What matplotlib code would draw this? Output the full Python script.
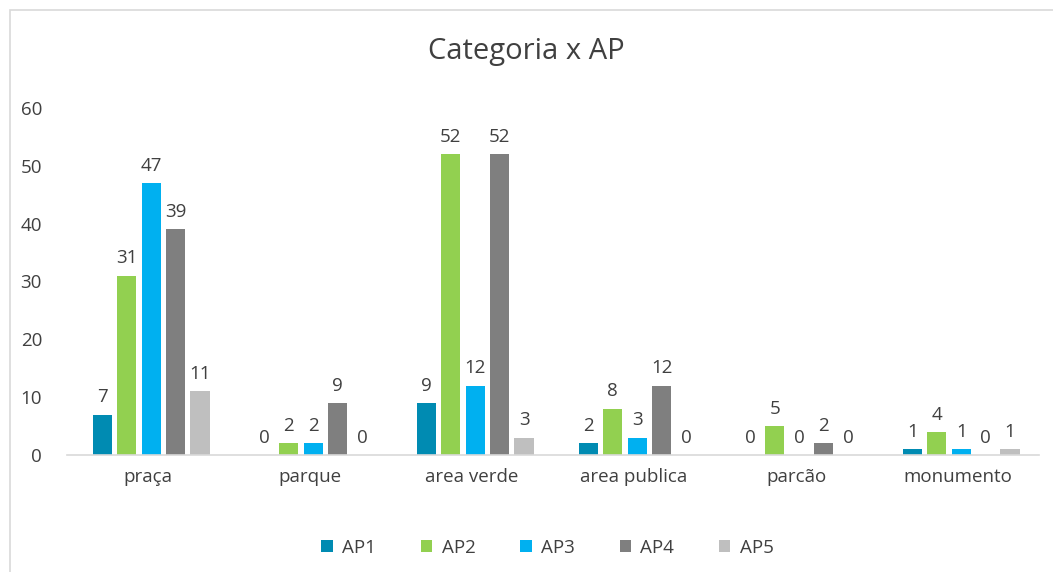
import numpy as np
import matplotlib.pyplot as plt
from matplotlib.patches import Rectangle

plt.rcParams['font.family'] = ['Open Sans', 'DejaVu Sans']

categories = ["praça", "parque", "area verde", "area publica", "parcão", "monumento"]
series_names = ["AP1", "AP2", "AP3", "AP4", "AP5"]
ap1 = [7, 0, 9, 2, 0, 1]
ap2 = [31, 2, 52, 8, 5, 4]
ap3 = [47, 2, 12, 3, 0, 1]
ap4 = [39, 9, 52, 12, 2, 0]
ap5 = [11, 0, 3, 0, 0, 1]
series = [ap1, ap2, ap3, ap4, ap5]
colors = ["#008BB2", "#92D050", "#00B0F0", "#7F7F7F", "#BFBFBF"]

text_color = "#404040"

fig = plt.figure(figsize=(10.53, 5.72), dpi=100)
# outer chart frame
fig.patches.append(Rectangle((10 / 1053, -0.01), 1.1, 1 - 10 / 572 + 0.01,
                             transform=fig.transFigure, fill=False,
                             edgecolor="#D9D9D9", linewidth=1.2))

ax = fig.add_axes([67 / 1053, 1 - 455 / 572, 972 / 1053, 347 / 572])

x = np.arange(len(categories))
pitch = 0.151
width = 0.12
for i, (vals, name, col) in enumerate(zip(series, series_names, colors)):
    pos = x + (i - 2) * pitch + 0.02
    bars = ax.bar(pos, vals, width, color=col, label=name, zorder=2)
    for p, v in zip(pos, vals):
        ax.annotate(str(v), (p, v), xytext=(0, 6), textcoords="offset points",
                    ha="center", va="bottom", fontsize=13.5, color=text_color)

ax.set_xlim(-0.5, len(categories) - 0.5)
ax.set_ylim(0, 60)
ax.set_yticks(range(0, 61, 10))
ax.set_xticks(x)
ax.set_xticklabels(categories)
ax.tick_params(axis="both", length=0, labelsize=13.5, labelcolor=text_color)
ax.tick_params(axis="x", pad=9)
ax.tick_params(axis="y", pad=18)
for s in ["top", "right", "left"]:
    ax.spines[s].set_visible(False)
ax.spines["bottom"].set_color("#D9D9D9")
ax.spines["bottom"].set_linewidth(1.2)

fig.text(0.5, 1 - 52 / 572, "Categoria x AP", ha="center", va="center",
         fontsize=21, color=text_color)

fig.legend(loc="center", bbox_to_anchor=(0.52, 1 - 548 / 572), ncol=5,
           frameon=False, fontsize=13.5, labelcolor=text_color,
           handlelength=0.6, handleheight=0.6, handletextpad=0.5,
           columnspacing=2.4)

plt.savefig("out.png", dpi=100)
